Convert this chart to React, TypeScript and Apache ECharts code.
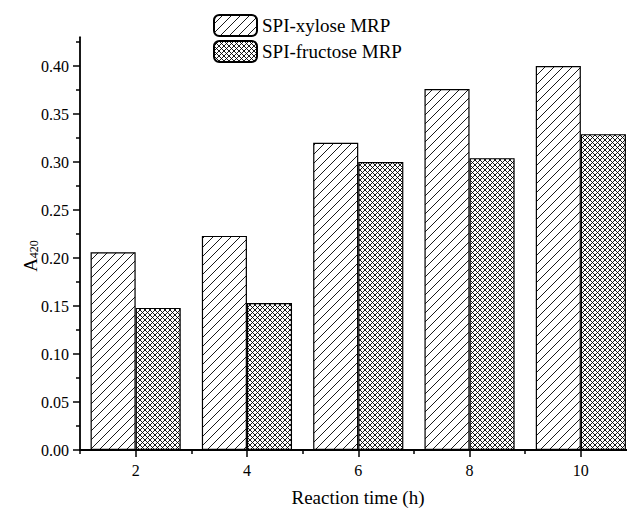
import React, { useEffect, useRef } from "react";
import * as echarts from "echarts";

const categories = ["2", "4", "6", "8", "10"];
const xyloseValues = [0.206, 0.223, 0.320, 0.376, 0.400];
const fructoseValues = [0.148, 0.153, 0.300, 0.304, 0.329];
const seriesNames = ["SPI-xylose MRP", "SPI-fructose MRP"];
const majorTicks = [0, 0.05, 0.1, 0.15, 0.2, 0.25, 0.3, 0.35, 0.4];
const minorTicks = [0.025, 0.075, 0.125, 0.175, 0.225, 0.275, 0.325, 0.375, 0.425];
const yAxisName = "A";
const yAxisSub = "420";
const xAxisName = "Reaction time (h)";

const FONT = "Liberation Serif";

function makeHatch(size: number, cross: boolean): HTMLCanvasElement {
  const c = document.createElement("canvas");
  c.width = size;
  c.height = size;
  const ctx = c.getContext("2d")!;
  ctx.fillStyle = "#ffffff";
  ctx.fillRect(0, 0, size, size);
  ctx.strokeStyle = "#000000";
  ctx.lineWidth = 0.9;
  ctx.beginPath();
  ctx.moveTo(-1, size + 1);
  ctx.lineTo(size + 1, -1);
  ctx.moveTo(-1, 1);
  ctx.lineTo(1, -1);
  ctx.moveTo(size - 1, size + 1);
  ctx.lineTo(size + 1, size - 1);
  if (cross) {
    ctx.moveTo(-1, -1);
    ctx.lineTo(size + 1, size + 1);
    ctx.moveTo(size - 1, -1);
    ctx.lineTo(size + 1, 1);
    ctx.moveTo(-1, size - 1);
    ctx.lineTo(1, size + 1);
  }
  ctx.stroke();
  return c;
}

export default function App() {
  const ref = useRef<HTMLDivElement>(null);
  useEffect(() => {
    if (!ref.current) return;
    const chart = echarts.init(ref.current, undefined, { renderer: "svg" });
    const hatch = makeHatch(9, false);
    const cross = makeHatch(5, true);
    const axisMax = 0.43;
    chart.setOption({
      animation: false,
      textStyle: { fontFamily: FONT, color: "#000" },
      legend: {
        orient: "vertical",
        left: 213,
        top: 14,
        padding: 0,
        itemWidth: 43,
        itemHeight: 21,
        itemGap: 3,
        textStyle: { fontFamily: FONT, fontSize: 19, color: "#000" },
        data: seriesNames,
      },
      grid: { left: 80, width: 556.5, top: 450 - axisMax * 960, height: axisMax * 960, containLabel: false },
      xAxis: [
        {
          type: "category",
          data: categories,
          position: "bottom",
          axisLine: { show: true, lineStyle: { color: "#000", width: 1.8 } },
          axisTick: { show: true, alignWithLabel: true, length: 7, lineStyle: { color: "#000", width: 1.5 } },
          axisLabel: { color: "#000", fontFamily: FONT, fontSize: 16, margin: 12 },
          splitLine: { show: false },
        },
        {
          type: "category",
          data: categories,
          position: "bottom",
          axisLine: { show: false },
          axisTick: { show: true, alignWithLabel: false, length: 4, lineStyle: { color: "#000", width: 1.5 } },
          axisLabel: { show: false },
          splitLine: { show: false },
        },
      ],
      yAxis: [
        {
          type: "value",
          min: 0,
          max: axisMax,
          interval: 0.05,
          axisLine: { show: true, lineStyle: { color: "#000", width: 1.8 } },
          axisTick: { show: true, length: 7, lineStyle: { color: "#000", width: 1.5 }, customValues: majorTicks },
          axisLabel: {
            color: "#000",
            fontFamily: FONT,
            fontSize: 16,
            margin: 11,
            customValues: majorTicks,
            formatter: (v: number) => v.toFixed(2),
          },
          splitLine: { show: false },
        },
        {
          type: "value",
          min: 0,
          max: axisMax,
          interval: 0.05,
          position: "left",
          axisLine: { show: false },
          axisTick: { show: true, length: 4, lineStyle: { color: "#000", width: 1.5 }, customValues: minorTicks },
          axisLabel: { show: false },
          splitLine: { show: false },
        },
      ],
      graphic: [
        {
          type: "text",
          x: 30,
          y: 256,
          rotation: Math.PI / 2,
          style: {
            text: `{a|${yAxisName}}{s|${yAxisSub}}`,
            align: "center",
            verticalAlign: "middle",
            rich: {
              a: { fontFamily: FONT, fontSize: 19, fill: "#000", lineHeight: 20, verticalAlign: "bottom" },
              s: { fontFamily: FONT, fontSize: 12, fill: "#000", lineHeight: 20, verticalAlign: "bottom", padding: [6, 0, 0, 0] },
            },
          },
        },
        {
          type: "text",
          x: 358,
          y: 497,
          style: {
            text: xAxisName,
            align: "center",
            verticalAlign: "middle",
            fontFamily: FONT,
            fontSize: 19,
            fill: "#000",
          },
        },
      ],
      series: [
        {
          name: seriesNames[0],
          type: "bar",
          data: xyloseValues,
          barGap: "0%",
          barCategoryGap: "19%",
          itemStyle: { color: { image: hatch, repeat: "repeat" }, borderColor: "#000", borderWidth: 1.2 },
        },
        {
          name: seriesNames[1],
          type: "bar",
          data: fructoseValues,
          barGap: "0%",
          barCategoryGap: "19%",
          itemStyle: { color: { image: cross, repeat: "repeat" }, borderColor: "#000", borderWidth: 1.2 },
        },
      ],
    });
    return () => chart.dispose();
  }, []);
  return (
    <div style={{ width: 627, height: 509, position: "absolute", left: 0, top: 0, overflow: "hidden" }}>
      <div ref={ref} style={{ width: 640, height: 509 }} />
    </div>
  );
}
